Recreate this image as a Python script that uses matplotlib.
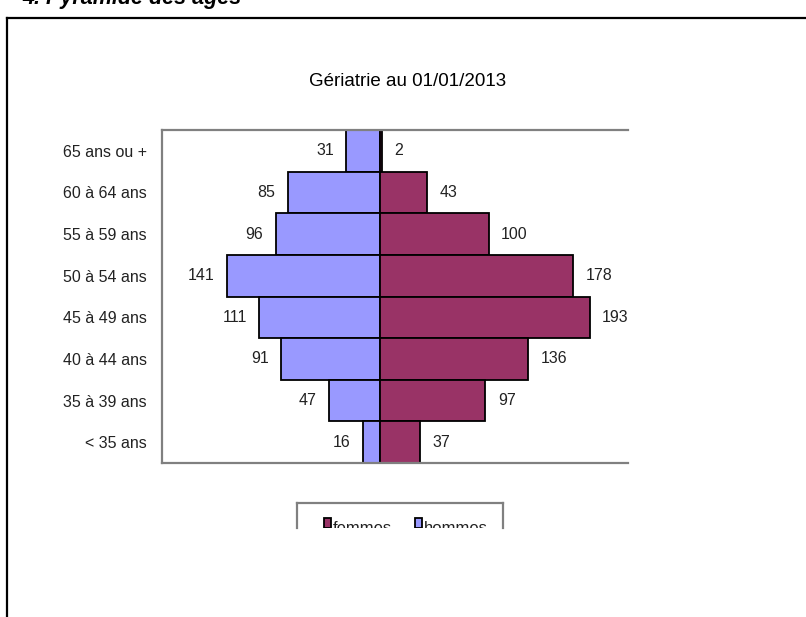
import matplotlib
matplotlib.use("Agg")
import matplotlib.pyplot as plt
from matplotlib.patches import Rectangle
from matplotlib.lines import Line2D

plt.rcParams['font.family'] = ['Liberation Sans', 'DejaVu Sans']

categories = ["65 ans ou +", "60 à 64 ans", "55 à 59 ans", "50 à 54 ans",
              "45 à 49 ans", "40 à 44 ans", "35 à 39 ans", "< 35 ans"]
hommes = [31, 85, 96, 141, 111, 91, 47, 16]
femmes = [2, 43, 100, 178, 193, 136, 97, 37]
title = "Gériatrie au 01/01/2013"
heading = "4. Pyramide des âges"
legend_labels = ["femmes", "hommes"]

c_f = "#993366"
c_h = "#9999FF"

W, H = 806, 617
fig = plt.figure(figsize=(W / 100, H / 100), dpi=100)

def fx(px):
    return px / W

def fy(py):
    return 1 - py / H

# document frame
fig.add_artist(Line2D([fx(7), fx(7)], [fy(18), 0], color="black", lw=1.6,
                      transform=fig.transFigure))
fig.add_artist(Line2D([fx(7), 1], [fy(18), fy(18)], color="black", lw=1.6,
                      transform=fig.transFigure))
# heading (cut by the top edge, as in the source page)
fig.text(fx(22), fy(4), heading, fontsize=15.5, fontweight="bold",
         fontstyle="italic", va="baseline", ha="left")

# main plot
ax = fig.add_axes([fx(162), fy(463), fx(628) - fx(162), fy(130) - fy(463)])
y = list(range(len(categories)))
ax.barh(y, [-v for v in hommes], height=1.0, color=c_h, edgecolor="black", lw=1.3)
ax.barh(y, femmes, height=1.0, color=c_f, edgecolor="black", lw=1.3)
ax.set_xlim(-200.6, 228.2)
ax.set_ylim(len(categories) - 0.5, -0.5)
ax.set_yticks(y)
ax.set_yticklabels(categories, fontsize=11.5, color="#222222")
ax.tick_params(axis="y", length=0, pad=11)
ax.set_xticks([])
for s in ["top", "left", "bottom"]:
    ax.spines[s].set_color("#808080")
    ax.spines[s].set_linewidth(1.6)
ax.spines["right"].set_visible(False)

for i, (h, f) in enumerate(zip(hommes, femmes)):
    ax.annotate(str(h), (-h, i), xytext=(-9, 0), textcoords="offset points",
                ha="right", va="center", fontsize=11.5, color="#222222")
    ax.annotate(str(f), (f, i), xytext=(9, 0), textcoords="offset points",
                ha="left", va="center", fontsize=11.5, color="#222222")

fig.text(fx(408), fy(82), title, fontsize=13.5, ha="center", va="center")

# legend box, cut at its lower part as in the source page
lx0, lx1, ly0, ly1 = 297, 503, 503, 528
lax = fig.add_axes([fx(lx0), fy(ly1), fx(lx1) - fx(lx0), fy(ly0) - fy(ly1)])
lax.set_xlim(0, lx1 - lx0)
lax.set_ylim(ly1 - ly0, 0)
lax.set_xticks([])
lax.set_yticks([])
for s in ["top", "left", "right"]:
    lax.spines[s].set_color("#808080")
    lax.spines[s].set_linewidth(1.6)
lax.spines["bottom"].set_visible(False)
lax.patch.set_alpha(0)
for mx, tx, col, lab in [(324, 333, c_f, legend_labels[0]),
                         (415, 424, c_h, legend_labels[1])]:
    r = Rectangle((mx - lx0, 518 - ly0), 7, 10, facecolor=col, edgecolor="black",
                  lw=1.3, clip_on=True)
    lax.add_patch(r)
    lax.text(tx - lx0, 533 - ly0, lab, fontsize=12, ha="left", va="baseline",
             color="#222222", clip_on=True)

fig.savefig("out.png", dpi=100)
